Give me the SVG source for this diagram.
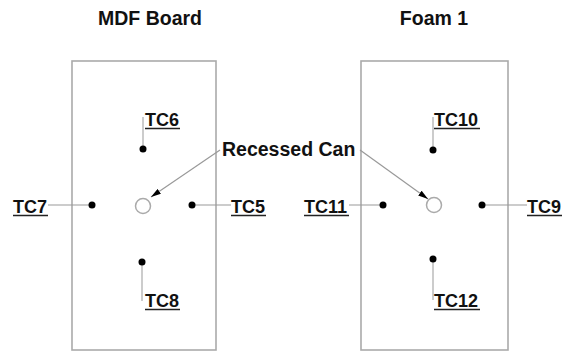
<svg xmlns="http://www.w3.org/2000/svg" width="567" height="352" viewBox="0 0 567 352">
<style>
text{font-family:"Liberation Sans",Arial,sans-serif;font-weight:bold;fill:#111}
.t{font-size:19.5px;text-anchor:middle}
.tc{font-size:18px}
.ul{stroke:#222;stroke-width:1.6}
.board{fill:#fff;stroke:#aaa;stroke-width:1.6}
.lead{stroke:#999;stroke-width:1;fill:none}
.arr{stroke:#999;stroke-width:1.2;fill:none}
.dot{fill:#000}
.can{fill:#fff;stroke:#aaa;stroke-width:1.5}
</style>
<defs>
<marker id="ah" viewBox="0 0 10 6" refX="10" refY="3" markerWidth="10" markerHeight="6" markerUnits="userSpaceOnUse" orient="auto">
<path d="M0,0 L10,3 L0,6 z" fill="#000"/>
</marker>
</defs>
<rect width="567" height="352" fill="#fff"/>
<g id="mdf-board">
<text class="t" x="150" y="25">MDF Board</text>
<rect class="board" x="72" y="61" width="144" height="289"/>
<circle id="can-left" class="can" cx="143" cy="206" r="7.5"/>
</g>
<g id="foam-1">
<text class="t" x="434" y="25">Foam 1</text>
<rect class="board" x="361" y="61" width="147" height="289"/>
<circle id="can-right" class="can" cx="434" cy="205" r="7.5"/>
</g>
<g id="connectors">
<line class="lead" x1="143" y1="117" x2="143" y2="149"/>
<line class="lead" x1="48" y1="205" x2="92" y2="205"/>
<line class="lead" x1="192" y1="205" x2="231" y2="205"/>
<line class="lead" x1="142" y1="262" x2="142" y2="301"/>
<line class="lead" x1="433" y1="117" x2="433" y2="150"/>
<line class="lead" x1="349" y1="205" x2="383" y2="205"/>
<line class="lead" x1="482" y1="205" x2="527" y2="205"/>
<line class="lead" x1="433" y1="259" x2="433" y2="300"/>
<line class="arr" x1="220" y1="150" x2="151" y2="197" marker-end="url(#ah)"/>
<line class="arr" x1="360" y1="150" x2="428" y2="199" marker-end="url(#ah)"/>
</g>
<g id="recessed-can">
<text x="222" y="156" style="font-size:19.5px">Recessed Can</text>
</g>
<g id="tc6"><circle class="dot" cx="143" cy="149" r="3.5"/><text class="tc" x="145" y="126">TC6</text><line class="ul" x1="145" y1="128.5" x2="180" y2="128.5"/></g>
<g id="tc7"><circle class="dot" cx="92" cy="205" r="3.5"/><text class="tc" x="13" y="213">TC7</text><line class="ul" x1="13" y1="215.5" x2="48" y2="215.5"/></g>
<g id="tc5"><circle class="dot" cx="192" cy="205" r="3.5"/><text class="tc" x="231" y="213">TC5</text><line class="ul" x1="231" y1="215.5" x2="266" y2="215.5"/></g>
<g id="tc8"><circle class="dot" cx="142" cy="262" r="3.5"/><text class="tc" x="145" y="307">TC8</text><line class="ul" x1="145" y1="309.5" x2="180" y2="309.5"/></g>
<g id="tc10"><circle class="dot" cx="433" cy="150" r="3.5"/><text class="tc" x="434" y="126">TC10</text><line class="ul" x1="434" y1="128.5" x2="480" y2="128.5"/></g>
<g id="tc11"><circle class="dot" cx="383" cy="205" r="3.5"/><text class="tc" x="304" y="213">TC11</text><line class="ul" x1="304" y1="215.5" x2="349" y2="215.5"/></g>
<g id="tc9"><circle class="dot" cx="482" cy="205" r="3.5"/><text class="tc" x="527" y="213">TC9</text><line class="ul" x1="527" y1="215.5" x2="562" y2="215.5"/></g>
<g id="tc12"><circle class="dot" cx="433" cy="259" r="3.5"/><text class="tc" x="434" y="307">TC12</text><line class="ul" x1="434" y1="309.5" x2="480" y2="309.5"/></g>
</svg>
